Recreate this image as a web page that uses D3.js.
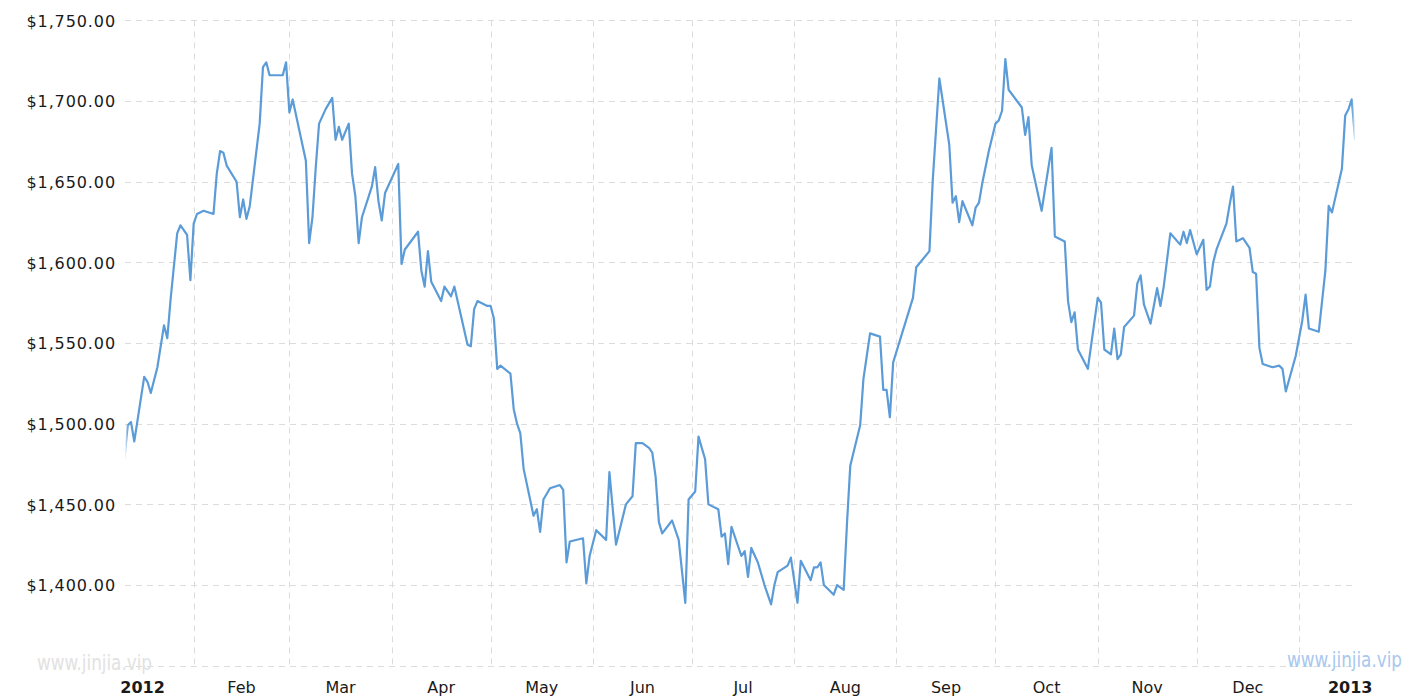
<!DOCTYPE html>
<html><head><meta charset="utf-8">
<script src="https://cdn.jsdelivr.net/npm/d3@7"></script>
<style>body{margin:0;background:#fff;} svg{display:block;}</style>
</head><body><svg id="c" width="1415" height="700"></svg>
<script>
// days since 2012-01-01 for each observation
const days = [10,11,12,13,16,17,18,20,22,23,24,26,27,29,30,31,32,34,37,38,39,40,41,44,45,46,47,48,51,52,53,54,58,59,60,61,65,66,67,68,69,71,73,74,75,76,78,79,80,81,82,85,86,87,88,89,93,94,95,99,100,101,102,103,106,107,109,110,114,115,116,117,120,121,122,123,124,127,128,129,130,131,134,135,136,137,139,142,143,144,145,149,150,151,153,156,157,159,162,164,165,167,169,170,171,172,173,176,178,180,181,183,184,186,187,190,191,192,193,194,197,198,199,200,202,204,206,207,208,211,212,214,215,218,219,220,221,222,225,226,228,229,230,233,234,236,239,240,241,242,243,249,250,254,255,257,260,261,262,263,264,267,268,269,270,272,274,275,276,277,278,282,283,284,285,288,289,291,292,295,296,297,298,299,302,305,306,307,309,310,311,312,313,316,317,318,319,321,323,324,325,327,330,331,332,333,335,337,338,339,340,341,344,345,346,347,349,351,352,353,354,355,358,360,361,362,365,367,368,369,372,374,375,376,379,380,381,382,383];
const prices = [1478,1499,1501,1489,1529,1526,1519,1535,1561,1553,1577,1618,1623,1617,1589,1624,1630,1632,1630,1655,1669,1668,1660,1650,1628,1639,1627,1635,1686,1721,1724,1716,1716,1724,1693,1701,1663,1612,1628,1659,1686,1695,1702,1676,1684,1676,1686,1655,1641,1612,1628,1647,1659,1638,1626,1643,1661,1599,1608,1619,1595,1585,1607,1588,1576,1585,1579,1585,1549,1548,1571,1576,1573,1573,1565,1534,1536,1531,1509,1500,1494,1472,1443,1447,1433,1453,1460,1462,1459,1414,1427,1429,1401,1418,1434,1428,1470,1425,1450,1455,1488,1488,1485,1482,1467,1439,1432,1440,1428,1389,1453,1458,1492,1478,1450,1447,1430,1432,1413,1436,1418,1421,1405,1423,1414,1400,1388,1400,1408,1412,1417,1389,1415,1403,1411,1411,1414,1400,1394,1400,1397,1438,1474,1499,1528,1556,1554,1521,1521,1504,1538,1578,1597,1607,1651,1714,1673,1637,1641,1625,1638,1623,1634,1637,1649,1669,1686,1688,1694,1726,1707,1696,1679,1690,1660,1632,1645,1671,1616,1613,1576,1563,1569,1546,1534,1578,1575,1546,1543,1559,1540,1543,1560,1567,1587,1592,1574,1562,1584,1573,1585,1618,1611,1619,1612,1620,1605,1614,1583,1585,1600,1608,1624,1636,1647,1613,1615,1609,1594,1593,1547,1537,1535,1536,1534,1520,1542,1564,1580,1559,1557,1595,1635,1631,1658,1691,1695,1701,1676];
const yTicks = [1350,1400,1450,1500,1550,1600,1650,1700,1750];
const yTickLabels = ["","$1,400.00","$1,450.00","$1,500.00","$1,550.00","$1,600.00","$1,650.00","$1,700.00","$1,750.00"];
const monthStarts = ["2012-01-01","2012-02-01","2012-03-01","2012-04-01","2012-05-01","2012-06-01","2012-07-01","2012-08-01","2012-09-01","2012-10-01","2012-11-01","2012-12-01","2013-01-01","2013-02-01"];
const monthLabels = ["2012","Feb","Mar","Apr","May","Jun","Jul","Aug","Sep","Oct","Nov","Dec","2013"];
const boldLabels = ["2012","2013"];

const parse = d3.timeParse("%Y-%m-%d");
const base = parse("2012-01-01");
const data = days.map((d,i)=>({date:d3.timeDay.offset(base,d), v:prices[i]}));
const months = monthStarts.map(parse);

const svg = d3.select("#c");
const L=125, R=1355, T=20.4, B=665.7;
const x = d3.scaleTime().domain([parse("2012-01-01"), parse("2013-01-01")]).range([91.4,1299]);
const y = d3.scaleLinear().domain([1350,1750]).range([B,T]);

const defs = svg.append("defs");
defs.append("clipPath").attr("id","clip").append("rect").attr("x",L).attr("y",0).attr("width",R-L).attr("height",700);
const g1 = defs.append("linearGradient").attr("id","fade").attr("gradientUnits","userSpaceOnUse")
  .attr("x1",L).attr("x2",R).attr("y1",0).attr("y2",0);
const W=R-L;
[[0,0],[3/W,1],[(W-3)/W,1],[1,0.1]].forEach(([o,a])=>g1.append("stop").attr("offset",o).attr("stop-color","#fff").attr("stop-opacity",a));
defs.append("mask").attr("id","m").attr("maskUnits","userSpaceOnUse").attr("x",0).attr("y",0).attr("width",1415).attr("height",700)
  .append("rect").attr("x",L).attr("y",0).attr("width",W).attr("height",700).attr("fill","url(#fade)");

const grid = svg.append("g").attr("stroke","#dcdcdc").attr("stroke-width",1).attr("stroke-dasharray","6,5").attr("fill","none");
grid.selectAll("line.h").data(yTicks).join("line").attr("class","h")
  .attr("x1",L).attr("x2",R).attr("y1",d=>Math.round(y(d))+0.5).attr("y2",d=>Math.round(y(d))+0.5);
grid.selectAll("line.v").data(months.slice(1,13)).join("line").attr("class","v")
  .attr("x1",d=>Math.round(x(d))+0.5).attr("x2",d=>Math.round(x(d))+0.5).attr("y1",T).attr("y2",B);

// y axis labels
const yAxis = d3.axisLeft(y).tickValues(yTicks.slice(1)).tickSize(0).tickPadding(0)
  .tickFormat((d)=>yTickLabels[yTicks.indexOf(d)]);
const ya = svg.append("g").attr("transform","translate(116,0)").call(yAxis);
ya.select(".domain").remove();
ya.selectAll("text").attr("font-family","'DejaVu Sans', Verdana, sans-serif").attr("font-size","16px")
  .attr("fill","#1a1a1a").attr("letter-spacing","0.9px").attr("dy","0.36em");

// x labels centred in month cells
svg.append("g").selectAll("text").data(monthLabels).join("text")
  .attr("x",(d,i)=>(x(months[i])+x(months[i+1]))/2)
  .attr("y",687).attr("dy","0.36em").attr("text-anchor","middle")
  .attr("font-family","'DejaVu Sans', Verdana, sans-serif").attr("font-size","16px")
  .attr("font-weight",d=>boldLabels.includes(d)?"bold":"normal")
  .attr("fill","#1a1a1a").text(d=>d);

// watermarks
svg.append("text").attr("x",37).attr("y",670).attr("font-family","'Liberation Sans Narrow','DejaVu Sans Condensed',sans-serif")
  .attr("font-size","22px").attr("textLength",115).attr("lengthAdjust","spacingAndGlyphs").attr("fill","#e2e2e2").text("www.jinjia.vip");

// line
const line = d3.line().x(d=>x(d.date)).y(d=>y(d.v));
svg.append("g").attr("clip-path","url(#clip)").attr("mask","url(#m)")
  .append("path").datum(data).attr("d",line).attr("fill","none")
  .attr("stroke","#5b9bd7").attr("stroke-width",2.2).attr("stroke-linejoin","round");

svg.append("text").attr("x",1287).attr("y",667).attr("font-family","'Liberation Sans Narrow','DejaVu Sans Condensed',sans-serif")
  .attr("font-size","22px").attr("textLength",115).attr("lengthAdjust","spacingAndGlyphs").attr("fill","#a9c8ee").text("www.jinjia.vip");
</script></body></html>
